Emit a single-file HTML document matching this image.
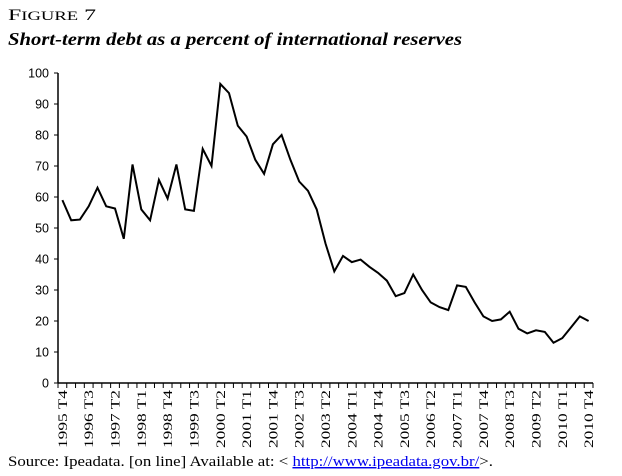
<!DOCTYPE html>
<html><head><meta charset="utf-8"><style>
body{margin:0;background:#fff;width:622px;height:476px;overflow:hidden}
svg{display:block}
</style></head><body>
<svg width="622" height="476" xmlns="http://www.w3.org/2000/svg">
<text x="8" y="20" font-family="Liberation Serif, serif" font-size="16" textLength="88" lengthAdjust="spacingAndGlyphs">F<tspan font-size="12.5">IGURE</tspan> 7</text>
<text x="8" y="45" font-family="Liberation Serif, serif" font-size="18" font-weight="bold" font-style="italic" textLength="454" lengthAdjust="spacingAndGlyphs">Short-term debt as a percent of international reserves</text>
<g id="axes"></g>
<text x="8" y="466" font-family="Liberation Serif, serif" font-size="14.5" textLength="485" lengthAdjust="spacingAndGlyphs">Source: Ipeadata. [on line] Available at: &lt; <tspan fill="#0000ee" text-decoration="underline">http://www.ipeadata.gov.br/</tspan>&gt;.</text>
</svg>
<script>
const years=[1995,1996,1997,1998,1999,2000,2001,2002,2003,2004,2005,2006,2007,2008,2009,2010];
const values=[59,52.5,52.7,57,63,57,56.3,46.5,70.5,56,52.5,65.5,59.5,70.5,56,55.5,75.5,70,96.5,93.5,83,79.5,72,67.5,77,80,72,65,62,56,45,36,41,39,39.8,37.5,35.5,33,28,29,35,30,26,24.5,23.5,31.5,31,26,21.5,20,20.5,23,17.5,16,17,16.5,13,14.5,18,21.5,20];
const yTicks=[0,10,20,30,40,50,60,70,80,90,100];
const cats=[];
cats.push('1995 T4');
for(let y=1996;y<=2010;y++)for(let q=1;q<=4;q++)cats.push(y+' T'+q);
const NS='http://www.w3.org/2000/svg';
const g=document.getElementById('axes');
const x0=58,x1=593,y0=383,y1=73;
const step=(x1-x0)/cats.length;
const X=i=>x0+step*(i+0.5);
const Y=v=>y0-(v/100)*(y0-y1);
function mk(t,a){const e=document.createElementNS(NS,t);for(const k in a)e.setAttribute(k,a[k]);g.appendChild(e);return e;}
let e=mk('line',{x1:x0,y1:y1,x2:x0,y2:y0,stroke:'#000','stroke-width':1.5});


e=mk('line',{x1:x0,y1:y0,x2:x1,y2:y0,stroke:'#000','stroke-width':1.5});


yTicks.forEach(v=>{
  const t=mk('line',{x1:x0-4,y1:Y(v),x2:x0,y2:Y(v),stroke:'#000'});
  
  
  const l=mk('text',{x:x0-9,y:Y(v)+4.5,'text-anchor':'end','font-family':'Liberation Sans, sans-serif','font-size':12.5});
  l.textContent=v;
  
  
});
for(let i=0;i<=cats.length;i++){
  const t=mk('line',{x1:x0+step*i,y1:y0,x2:x0+step*i,y2:y0+5,stroke:'#000'});
  
  
}
cats.forEach((c,i)=>{
  if(i%3!==0)return;
  const l=mk('text',{x:0,y:0,'text-anchor':'end','font-family':'Liberation Serif, serif','font-size':13,textLength:58,lengthAdjust:'spacingAndGlyphs',transform:`translate(${X(i)+4.5},${y0+7}) rotate(-90)`});
  l.textContent=c;
  
  
});
const pts=values.map((v,i)=>X(i).toFixed(1)+','+Y(v).toFixed(1)).join(' ');
e=mk('polyline',{points:pts,fill:'none',stroke:'#000','stroke-width':2,'stroke-linejoin':'miter'});


</script>
</body></html>
